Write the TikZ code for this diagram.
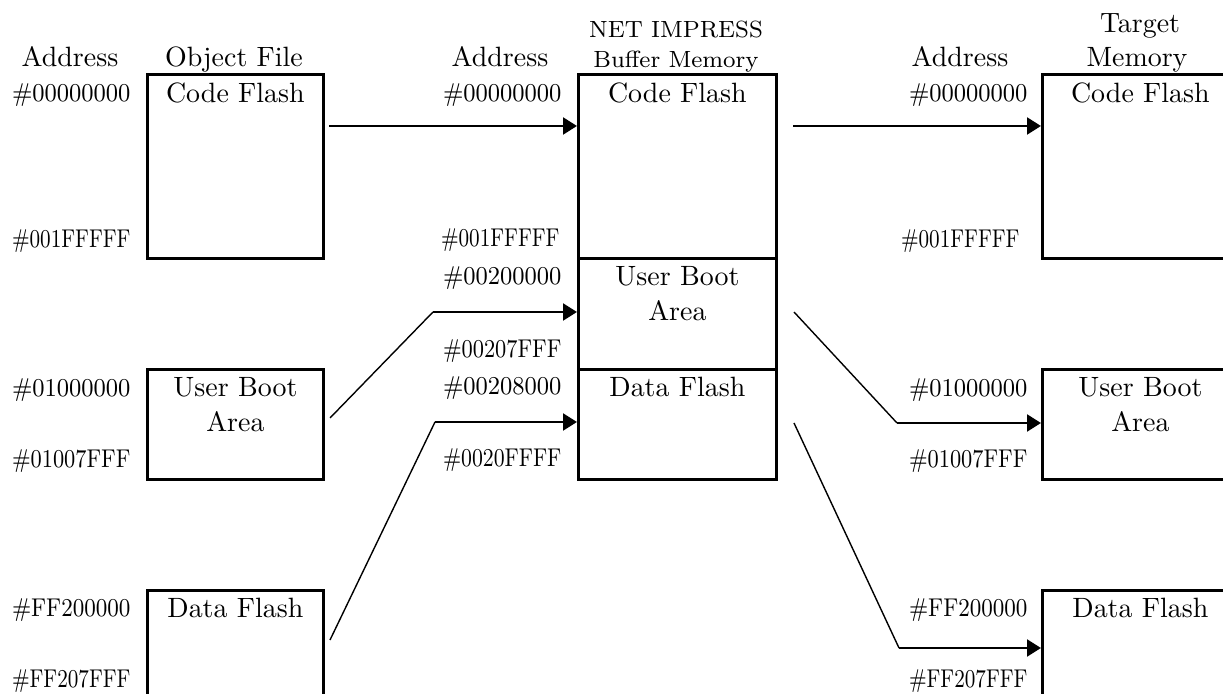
\documentclass[tikz,border=0pt]{standalone}
\usepackage{fontspec}
\usepackage{graphicx}
\usetikzlibrary{positioning,arrows.meta}
\newlength\pxu
\setlength\pxu{0.358pt}
\newcommand\adr[1]{\resizebox{42.4pt}{\height}{\##1}}

\begin{document}
\begin{tikzpicture}[x=0.358pt, y=-0.358pt,
  memblk/.style={draw, line width=1pt, anchor=north west, inner sep=0pt},
  blktxt/.style={inner sep=0pt, align=center, font=\fontsize{10}{12.5}\selectfont},
  hexadr/.style={anchor=base east, inner sep=0pt, font=\fontsize{9.2}{10}\selectfont},
  head/.style={anchor=base, inner sep=0pt, font=\fontsize{10}{12}\selectfont},
  smallhead/.style={anchor=base, inner sep=0pt, font=\fontsize{8.4}{10}\selectfont},
  wire/.style={line width=1pt, -{Triangle[length=5pt,width=6pt]}},
  slant/.style={line width=0.5pt}]
\useasboundingbox (0,0) rectangle (1223,694);
\clip (0,0) rectangle (1223,694);

% column headers
\node[head] (hdAdrObj) at (70,67) {Address};
\node[head] (hdObj) at (234,67) {Object File};
\node[head] (hdAdrBuf) at (500,67) {Address};
\node[smallhead] (hdBufA) at (676,38) {NET IMPRESS};
\node[smallhead] (hdBufB) at (676,68) {Buffer Memory};
\node[head] (hdAdrTgt) at (960,67) {Address};
\node[head] (hdTgtA) at (1140,33) {Target};
\node[head] (hdTgtB) at (1137,67) {Memory};

% object file
\node[memblk, minimum width=176\pxu, minimum height=184\pxu] (objCode) at (146,73) {};
\node[memblk, minimum width=176\pxu, minimum height=110\pxu] (objBoot) at (146,368) {};
\node[memblk, minimum width=176\pxu, minimum height=150\pxu] (objData) at (146,589) {};
\node[blktxt, below=9\pxu of objCode.north] (objCodeTxt) {Code Flash};
\node[blktxt, below=9\pxu of objBoot.north] (objBootTxt) {User Boot\\Area};
\node[blktxt, below=9\pxu of objData.north] (objDataTxt) {Data Flash};

% buffer memory
\node[memblk, minimum width=198\pxu, minimum height=184\pxu] (bufCode) at (577,73) {};
\node[memblk, minimum width=198\pxu, minimum height=111\pxu] (bufBoot) at (577,257) {};
\node[memblk, minimum width=198\pxu, minimum height=110\pxu] (bufData) at (577,368) {};
\node[blktxt, below=9\pxu of bufCode.north] (bufCodeTxt) {Code Flash};
\node[blktxt, below=9\pxu of bufBoot.north] (bufBootTxt) {User Boot\\Area};
\node[blktxt, below=9\pxu of bufData.north] (bufDataTxt) {Data Flash};

% target memory
\node[memblk, minimum width=196\pxu, minimum height=184\pxu] (tgtCode) at (1041,73) {};
\node[memblk, minimum width=196\pxu, minimum height=110\pxu] (tgtBoot) at (1041,368) {};
\node[memblk, minimum width=196\pxu, minimum height=150\pxu] (tgtData) at (1041,589) {};
\node[blktxt, below=9\pxu of tgtCode.north] (tgtCodeTxt) {Code Flash};
\node[blktxt, below=9\pxu of tgtBoot.north] (tgtBootTxt) {User Boot\\Area};
\node[blktxt, below=9\pxu of tgtData.north] (tgtDataTxt) {Data Flash};

% addresses
\node[hexadr] (adrObj1) at (131,102) {\adr{00000000}};
\node[hexadr] (adrObj2) at (131,248) {\adr{001FFFFF}};
\node[hexadr] (adrObj3) at (131,397) {\adr{01000000}};
\node[hexadr] (adrObj4) at (131,468) {\adr{01007FFF}};
\node[hexadr] (adrObj5) at (131,617) {\adr{FF200000}};
\node[hexadr] (adrObj6) at (131,688) {\adr{FF207FFF}};

\node[hexadr] (adrBuf1) at (562,102) {\adr{00000000}};
\node[hexadr] (adrBuf2) at (560,247) {\adr{001FFFFF}};
\node[hexadr] (adrBuf3) at (562,285) {\adr{00200000}};
\node[hexadr] (adrBuf4) at (562,358) {\adr{00207FFF}};
\node[hexadr] (adrBuf5) at (562,395) {\adr{00208000}};
\node[hexadr] (adrBuf6) at (562,467) {\adr{0020FFFF}};

\node[hexadr] (adrTgt1) at (1028,102) {\adr{00000000}};
\node[hexadr] (adrTgt2) at (1020,248) {\adr{001FFFFF}};
\node[hexadr] (adrTgt3) at (1028,397) {\adr{01000000}};
\node[hexadr] (adrTgt4) at (1028,468) {\adr{01007FFF}};
\node[hexadr] (adrTgt5) at (1028,617) {\adr{FF200000}};
\node[hexadr] (adrTgt6) at (1028,688) {\adr{FF207FFF}};

% transfers
\coordinate (cfA) at (329,126);
\coordinate (cfB) at (793,126);
\coordinate (ubA) at (330,418);
\coordinate (ubBend) at (433,312);
\coordinate (dfA) at (330,640);
\coordinate (dfBend) at (435,422);
\coordinate (ubB) at (794,312);
\coordinate (ubBendT) at (897,423);
\coordinate (dfB) at (794,423);
\coordinate (dfBendT) at (899,648);

\draw[wire] (cfA) -- (cfA -| bufCode.west);
\draw[wire] (cfB) -- (cfB -| tgtCode.west);
\draw[slant] (ubA) -- (ubBend);
\draw[wire] (ubBend) -- (ubBend -| bufBoot.west);
\draw[slant] (dfA) -- (dfBend);
\draw[wire] (dfBend) -- (dfBend -| bufData.west);
\draw[slant] (ubB) -- (ubBendT);
\draw[wire] (ubBendT) -- (ubBendT -| tgtBoot.west);
\draw[slant] (dfB) -- (dfBendT);
\draw[wire] (dfBendT) -- (dfBendT -| tgtData.west);

\end{tikzpicture}
\end{document}
